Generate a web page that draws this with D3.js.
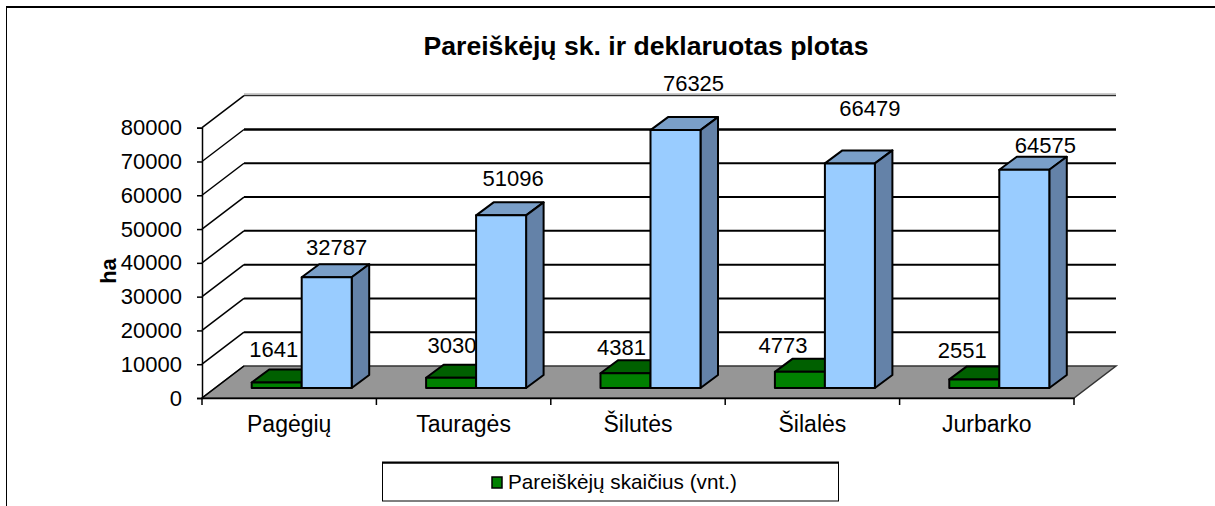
<!DOCTYPE html>
<html>
<head>
<meta charset="utf-8">
<script src="https://cdn.jsdelivr.net/npm/d3@7"></script>
<style>
  html, body { margin: 0; padding: 0; background: #fff; }
  svg { display: block; }
  text { font-family: "Liberation Sans", Arial, sans-serif; fill: #000; }
</style>
</head>
<body>
<svg id="canvas" width="1215" height="506"></svg>
<script>
const titulo = "Pareiškėjų sk. ir deklaruotas plotas";
const categorias = ["Pagėgių", "Tauragės", "Šilutės", "Šilalės", "Jurbarko"];
const series = ["Pareiškėjų skaičius (vnt.)", "Deklaruotas plotas (ha)"];
const pareiskejai = [1641, 3030, 4381, 4773, 2551];
const plotas = [32787, 51096, 76325, 66479, 64575];
const marcasY = [0, 10000, 20000, 30000, 40000, 50000, 60000, 70000, 80000];

// Las etiquetas del original están movidas a mano respecto a cada barra
const ajustePareiskejai = [[-3, -12.5], [1, -12], [-4, -5], [-17, -6], [-12, -8]];
const ajustePlotas = [[10, -9.5], [12, -16.7], [18, -26.4], [20, -34.7], [21, -3.8]];

const svg = d3.select("#canvas");

const x0 = 202, x1 = 1074, y0 = 398, y1 = 127.7;
const fondoX = 42, fondoY = -32;    // profundidad de la pared
const barraX = 17.5, barraY = -13;  // profundidad de cada barra
const baseBarra = 10;               // la barra se apoya 10px antes del borde

const x = d3.scaleBand().domain(categorias).range([x0, x1]);
const xSerie = d3.scaleBand().domain(series).range([49.7, 149.7]);
const y = d3.scaleLinear().domain([0, 80000]).range([y0, y1]);

// Marco cortado de la imagen
svg.append("line")
    .attr("x1", 6).attr("x2", 1215)
    .attr("y1", 7).attr("y2", 7)
    .attr("stroke", "#000")
    .attr("stroke-width", 2);
svg.append("line")
    .attr("x1", 6.5).attr("x2", 6.5)
    .attr("y1", 7).attr("y2", 506)
    .attr("stroke", "#000")
    .attr("stroke-width", 1);

// Título
svg.append("text")
    .attr("x", 646)
    .attr("y", 55)
    .attr("text-anchor", "middle")
    .attr("font-size", 26.6)
    .attr("font-weight", "bold")
    .text(titulo);

// Suelo
const suelo = [[x0, y0], [x1, y0], [x1 + fondoX, y0 + fondoY], [x0 + fondoX, y0 + fondoY]];
svg.append("path")
    .attr("d", d3.line()(suelo) + "Z")
    .attr("fill", "#969696")
    .attr("stroke", "#333")
    .attr("stroke-width", 1.5);

// Rejilla de la pared y diagonales
marcasY.forEach(v => {
    if (v === 80000) {
        svg.append("line")
            .attr("x1", x0 + fondoX).attr("x2", x1 + fondoX)
            .attr("y1", y(v) + fondoY - 1.5).attr("y2", y(v) + fondoY - 1.5)
            .attr("stroke", "#bbb")
            .attr("stroke-width", 2);
    }
    if (v > 0) {
        svg.append("line")
            .attr("x1", x0 + fondoX).attr("x2", x1 + fondoX)
            .attr("y1", y(v) + fondoY).attr("y2", y(v) + fondoY)
            .attr("stroke", "#000")
            .attr("stroke-width", v === 70000 ? 2.5 : (v === 80000 ? 1 : 2));
    }
    svg.append("line")
        .attr("x1", x0).attr("x2", x0 + fondoX)
        .attr("y1", y(v)).attr("y2", y(v) + fondoY)
        .attr("stroke", "#000")
        .attr("stroke-width", 1.5);
});

// Ejes
const ejeY = svg.append("g")
    .attr("transform", `translate(${x0},0)`)
    .call(d3.axisLeft(y).tickValues(marcasY).tickFormat(d3.format("d")).tickSize(5).tickPadding(15));
ejeY.selectAll("text").attr("font-size", 22);
ejeY.selectAll("path, line").attr("stroke", "#000").attr("stroke-width", 1.5);

const ejeX = svg.append("g")
    .attr("transform", `translate(0,${y0})`)
    .call(d3.axisBottom(x).tickSize(0).tickPadding(18));
ejeX.selectAll("text").attr("font-size", 23);
ejeX.select("path").attr("stroke", "#000").attr("stroke-width", 1.5);
categorias.concat(null).forEach(c => {
    const px = c === null ? x1 : x(c);
    svg.append("line")
        .attr("x1", px).attr("x2", px)
        .attr("y1", y0).attr("y2", y0 + 7)
        .attr("stroke", "#000")
        .attr("stroke-width", 1.5);
});

// Barra con cara frontal, superior y lateral
function dibujarBarra(left, ancho, valor, colores) {
    const abajo = y0 - baseBarra;
    const arriba = abajo - (y0 - y(valor));
    const der = left + ancho;
    const g = svg.append("g").attr("stroke", "#000").attr("stroke-width", 2).attr("stroke-linejoin", "round");
    g.append("path")
        .attr("d", d3.line()([[left, arriba], [der, arriba], [der + barraX, arriba + barraY], [left + barraX, arriba + barraY]]) + "Z")
        .attr("fill", colores.arriba);
    g.append("path")
        .attr("d", d3.line()([[der, arriba], [der + barraX, arriba + barraY], [der + barraX, abajo + barraY], [der, abajo]]) + "Z")
        .attr("fill", colores.lado);
    g.append("rect")
        .attr("x", left).attr("y", arriba)
        .attr("width", ancho).attr("height", abajo - arriba)
        .attr("fill", colores.frente);
    return arriba + barraY;
}

const verde = { frente: "#008000", arriba: "#006000", lado: "#004d00" };
const azul = { frente: "#99ccff", arriba: "#7a9fc8", lado: "#6482a8" };

// Primero todas las barras, las etiquetas encima de todo
const etiquetas = [];
categorias.forEach((c, i) => {
    [
        { serie: series[0], valor: pareiskejai[i], colores: verde, ajuste: ajustePareiskejai[i] },
        { serie: series[1], valor: plotas[i], colores: azul, ajuste: ajustePlotas[i] }
    ].forEach(b => {
        const left = x(c) + xSerie(b.serie);
        const tope = dibujarBarra(left, xSerie.bandwidth(), b.valor, b.colores);
        etiquetas.push({ x: left + xSerie.bandwidth() / 2 + b.ajuste[0], y: tope + b.ajuste[1], valor: b.valor });
    });
});

svg.selectAll(".etiqueta")
    .data(etiquetas)
    .enter()
    .append("text")
    .attr("class", "etiqueta")
    .attr("x", d => d.x)
    .attr("y", d => d.y)
    .attr("text-anchor", "middle")
    .attr("font-size", 22)
    .text(d => d.valor);

// Título del eje Y
svg.append("text")
    .attr("transform", "translate(116,271) rotate(-90)")
    .attr("text-anchor", "middle")
    .attr("font-size", 22)
    .attr("font-weight", "bold")
    .text("ha");

// Leyenda (en el original solo se ve la primera serie)
svg.append("rect")
    .attr("x", 382.5).attr("y", 463)
    .attr("width", 456).attr("height", 38)
    .attr("fill", "#fff")
    .attr("stroke", "#000")
    .attr("stroke-width", 1);
svg.append("line")
    .attr("x1", 382).attr("x2", 839)
    .attr("y1", 462.5).attr("y2", 462.5)
    .attr("stroke", "#000")
    .attr("stroke-width", 2);
svg.append("rect")
    .attr("x", 492).attr("y", 477)
    .attr("width", 10).attr("height", 11)
    .attr("fill", verde.frente)
    .attr("stroke", "#000")
    .attr("stroke-width", 1.5);
svg.append("text")
    .attr("x", 508)
    .attr("y", 489)
    .attr("font-size", 20.7)
    .text(series[0]);
</script>
</body>
</html>
